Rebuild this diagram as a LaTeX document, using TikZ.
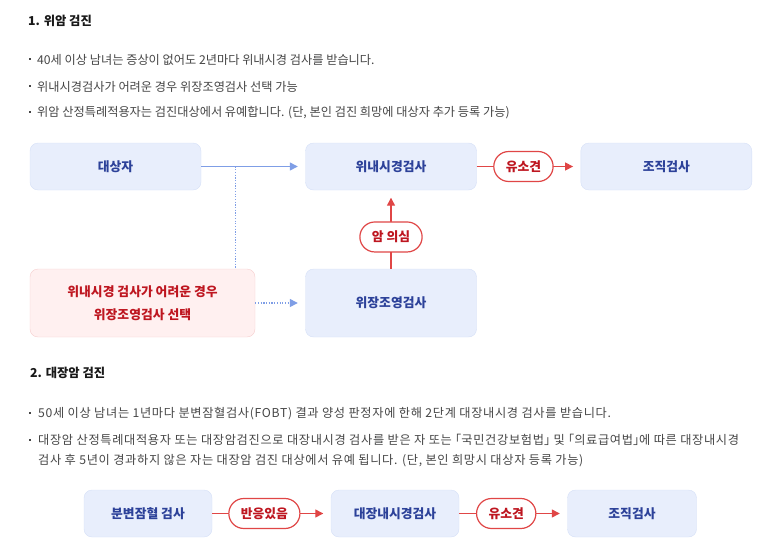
\documentclass[tikz,border=0pt]{standalone}
\usepackage{fontspec}
\setmainfont{Noto Sans CJK KR}
\usetikzlibrary{positioning, arrows.meta}

\definecolor{boxblue}{HTML}{E8EEFC}
\definecolor{boxline}{HTML}{D6E0F7}
\definecolor{boxtext}{HTML}{2C4199}
\definecolor{pinkfill}{HTML}{FFF0F0}
\definecolor{pinkline}{HTML}{F6CFCF}
\definecolor{darkred}{HTML}{BE1620}
\definecolor{linered}{HTML}{E04646}
\definecolor{lineblue}{HTML}{7F9EE6}
\definecolor{bodygray}{HTML}{454545}

\newcommand{\boxsize}{\fontsize{12.8}{15}\selectfont}
\newcommand{\halfbr}[1]{{\addfontfeatures{RawFeature=+halt}#1}}

\tikzset{
    heading/.style={anchor=west, inner sep=0pt, text=black!90, font=\fontsize{12.3}{14}\selectfont\bfseries},
    bullettext/.style={anchor=west, inner sep=0pt, text=bodygray, align=left, font=\fontsize{12.2}{20}\selectfont},
    widetext/.style={bullettext, font=\fontsize{12.2}{20}\selectfont\addfontfeatures{LetterSpace=5.5}},
    dot/.style={fill=bodygray, inner sep=0pt, minimum size=2.2pt},
    exam/.style={draw=boxline, fill=boxblue, rounded corners=8pt, text=boxtext, font=\boxsize\bfseries, minimum width=171pt, minimum height=47pt},
    altbox/.style={draw=pinkline, fill=pinkfill, rounded corners=8pt, text=darkred, align=center, font=\fontsize{12.8}{23}\selectfont\bfseries, minimum width=225pt, minimum height=68pt},
    tag/.style={draw=linered, fill=white, line width=1.2pt, rounded corners=15pt, text=darkred, font=\boxsize\bfseries, inner xsep=12pt, minimum height=30pt},
    bluearrow/.style={draw=lineblue, line width=1.3pt, -{Triangle[length=8pt, width=8pt]}, shorten >=7.5pt},
    bluedot/.style={draw=lineblue, line width=1.3pt, dash pattern=on 1.2pt off 1.5pt},
    redarrow/.style={draw=linered, line width=1.3pt, -{Triangle[length=8pt, width=8pt]}, shorten >=7.5pt}
}

\begin{document}
\begin{tikzpicture}[x=1pt, y=-1pt]
    \useasboundingbox (0,0) rectangle (764,549);

    % 1. stomach
    \node[heading] (head1) at (28,21) {1. 위암 검진};
    \foreach \y/\txt [count=\i] in {60/{40세 이상 남녀는 증상이 없어도 2년마다 위내시경 검사를 받습니다.},
                                    86.7/{위내시경검사가 어려운 경우 위장조영검사 선택 가능},
                                    113/{위암 산정특례적용자는 검진대상에서 유예합니다. (단, 본인 검진 희망에 대상자 추가 등록 가능)}} {
        \node[dot] (dotA\i) at (30,\y-1) {};
        \node[bullettext] (itemA\i) at (37,\y) {\txt};
    }

    \node[exam] (target) at (115.5,166.5) {대상자};
    \node[exam] (endo) at (391,166.5) {위내시경검사};
    \node[exam] (biopsy) at (666.3,166.5) {조직검사};
    \node[exam, minimum height=68pt] (ugi) at (391,303) {위장조영검사};
    \node[altbox] (alt) at (142.5,303) {위내시경 검사가 어려운 경우\\위장조영검사 선택};
    \coordinate (split) at (235.7,166.5);

    \draw[bluearrow] (target) -- (endo);
    \draw[bluedot] (split) -- (split |- alt.north);
    \draw[bluedot, -{Triangle[length=8pt, width=8pt]}, shorten >=7.5pt] (alt) -- (ugi);
    \draw[redarrow] (ugi) -- node[tag, pos=0.405] (suspect) {암 의심} (endo);
    \draw[redarrow] (endo) -- node[tag, pos=0.45] (finding) {유소견} (biopsy);

    % 2. colon
    \node[heading] (head2) at (30,373) {2. 대장암 검진};
    \node[dot] (dotB1) at (30,413) {};
    \node[widetext] (itemB1) at (38,414) {50세 이상 남녀는 1년마다 분변잠혈검사(FOBT) 결과 양성 판정자에 한해 2단계 대장내시경 검사를 받습니다.};
    \node[dot] (dotB2) at (30,440) {};
    \node[widetext] (itemB2) at (38,451) {대장암 산정특례대적용자 또는 대장암검진으로 대장내시경 검사를 받은 자 또는 \halfbr{「}국민건강보험법\halfbr{」} 및 \halfbr{「}의료급여법\halfbr{」}에 따른 대장내시경\\검사 후 5년이 경과하지 않은 자는 대장암 검진 대상에서 유예 됩니다. (단, 본인 희망시 대상자 등록 가능)};

    \node[exam, minimum width=128pt] (fobt) at (148,513.5) {분변잠혈 검사};
    \node[exam, minimum width=128pt] (colono) at (395,513.5) {대장내시경검사};
    \node[exam, minimum width=129pt] (biopsy2) at (632,513.5) {조직검사};

    \draw[redarrow] (fobt) -- node[tag, pos=0.44] (positive) {반응있음} (colono);
    \draw[redarrow] (colono) -- node[tag, pos=0.435] (finding2) {유소견} (biopsy2);
\end{tikzpicture}
\end{document}
